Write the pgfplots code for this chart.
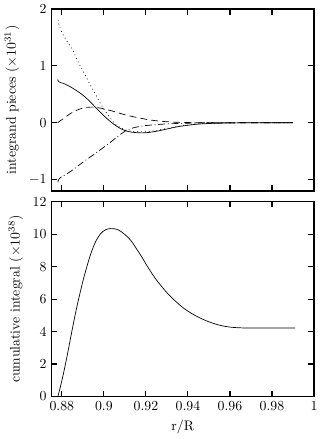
\documentclass[border=0pt]{standalone}
\usepackage{pgfplots}
\pgfplotsset{compat=1.18}
\usetikzlibrary{calc}
\begin{document}
\begin{tikzpicture}
\pgfplotsset{
  every axis/.append style={
    scale only axis, width=190pt, xmin=0.875, xmax=1,
    tick align=inside, major tick length=4pt,
    axis line style={line width=0.9pt},
    every tick/.style={line width=0.8pt, black},
    xtick={0.88,0.9,0.92,0.94,0.96,0.98,1},
  },
}
\begin{axis}[name=bot, height=141pt, ymin=0, ymax=12, ytick={0,2,...,12},
  xticklabels={0.88,0.9,0.92,0.94,0.96,0.98,1},
  xlabel={r/R}, ylabel={cumulative integral ($\times10^{38}$)}]
\addplot[black, smooth, line width=0.5pt] coordinates {
(0.8781,0.0) (0.8795,0.7) (0.8809,1.5) (0.8825,2.5) (0.884,3.5) (0.8855,4.5)
(0.8871,5.5) (0.8887,6.4) (0.8902,7.2) (0.8918,7.95) (0.8933,8.6) (0.8948,9.15)
(0.8963,9.6) (0.898,9.95) (0.8994,10.15) (0.901,10.28) (0.903,10.34) (0.905,10.33)
(0.907,10.25) (0.9086,10.12) (0.911,9.86) (0.913,9.58) (0.9148,9.24) (0.918,8.6)
(0.921,7.95) (0.925,7.18) (0.9294,6.48) (0.9311,6.24) (0.935,5.76) (0.9388,5.36)
(0.943,5.02) (0.9465,4.79) (0.950,4.6) (0.9542,4.42) (0.958,4.31) (0.962,4.25)
(0.966,4.225) (0.97,4.22) (0.98,4.22) (0.991,4.22)
};
\end{axis}
\begin{axis}[at={($(bot.north west)+(0,7.7pt)$)}, anchor=south west,
  height=131.6pt, ymin=-1.2, ymax=2, ytick={-1,0,1,2}, xticklabels={},
  ylabel={integrand pieces ($\times10^{31}$)}]
% solid
\addplot[black, smooth, line width=0.5pt] coordinates {
(0.8780,0.76) (0.8786,0.72) (0.8809,0.69) (0.8832,0.65) (0.8855,0.60) (0.8880,0.54)
(0.8902,0.48) (0.8929,0.39) (0.8945,0.33) (0.8963,0.26) (0.8995,0.14) (0.9025,0.04)
(0.9056,-0.05) (0.9086,-0.115) (0.9117,-0.155) (0.9148,-0.172) (0.918,-0.178)
(0.921,-0.172) (0.925,-0.15) (0.930,-0.11) (0.9358,-0.065) (0.9435,-0.028)
(0.95,-0.013) (0.96,-0.004) (0.97,0) (0.99,0)
};
% dotted
\addplot[black, smooth, line width=0.5pt, dash pattern=on 0.6pt off 2.2pt] coordinates {
(0.8782,1.81) (0.8788,1.70) (0.8806,1.55) (0.8822,1.45) (0.8837,1.36) (0.8853,1.27)
(0.8874,1.10) (0.8902,0.90) (0.8929,0.71) (0.8945,0.60) (0.8963,0.48) (0.8979,0.37)
(0.900,0.24) (0.9025,0.11) (0.9056,-0.03) (0.9086,-0.10) (0.9117,-0.14) (0.915,-0.155)
(0.918,-0.16) (0.921,-0.155) (0.925,-0.135) (0.93,-0.10) (0.936,-0.06) (0.944,-0.025)
(0.95,-0.012) (0.96,-0.004) (0.97,0) (0.99,0)
};
% dashed
\addplot[black, smooth, line width=0.5pt, dash pattern=on 5pt off 3pt] coordinates {
(0.8779,0) (0.881,0.08) (0.884,0.16) (0.887,0.22) (0.8902,0.26) (0.8935,0.275)
(0.8963,0.27) (0.900,0.245) (0.9056,0.19) (0.910,0.14) (0.9148,0.10) (0.921,0.055)
(0.925,0.035) (0.930,0.018) (0.935,0.008) (0.945,0.001) (0.96,0) (0.99,0)
};
% dash-dot
\addplot[black, smooth, line width=0.5pt, dash pattern=on 5pt off 2pt on 0.6pt off 2pt] coordinates {
(0.8782,-1.05) (0.8788,-0.98) (0.884,-0.86) (0.8902,-0.69) (0.8963,-0.53)
(0.9025,-0.36) (0.9070,-0.23) (0.9100,-0.15) (0.9130,-0.10) (0.9170,-0.065)
(0.921,-0.045) (0.93,-0.02) (0.94,-0.008) (0.95,0) (0.99,0)
};
\end{axis}
\end{tikzpicture}
\end{document}
